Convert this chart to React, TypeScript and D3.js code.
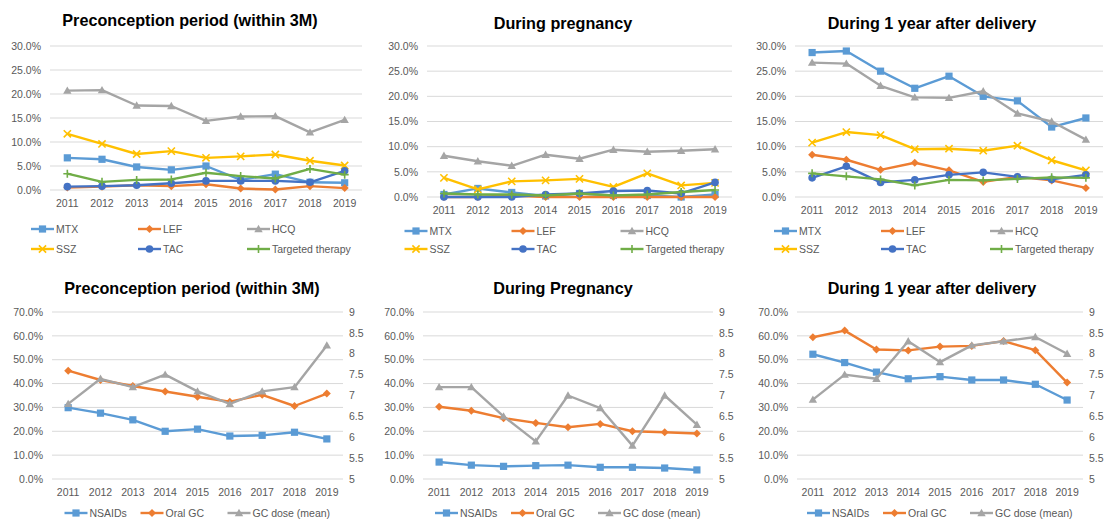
import React from 'react';
import * as d3 from 'd3';

// categories and ticks
const years = ['2011', '2012', '2013', '2014', '2015', '2016', '2017', '2018', '2019'];
const topTicks = [0, 5, 10, 15, 20, 25, 30];
const bottomTicks = [0, 10, 20, 30, 40, 50, 60, 70];
const doseTicks = [5, 5.5, 6, 6.5, 7, 7.5, 8, 8.5, 9];

// Preconception period (within 3M), % of patients
const preMTX = [6.7, 6.4, 4.8, 4.2, 5.0, 2.1, 3.3, 1.6, 1.5];
const preLEF = [0.5, 0.7, 1.0, 0.8, 1.2, 0.3, 0.1, 0.8, 0.4];
const preHCQ = [20.7, 20.8, 17.6, 17.5, 14.4, 15.3, 15.4, 12.0, 14.6];
const preSSZ = [11.7, 9.6, 7.5, 8.1, 6.7, 7.0, 7.4, 6.1, 5.1];
const preTAC = [0.7, 0.8, 1.0, 1.4, 1.9, 1.9, 1.9, 1.6, 4.0];
const preTarget = [3.4, 1.7, 2.1, 2.2, 3.6, 2.9, 2.4, 4.4, 3.2];

// During pregnancy
const pregMTX = [0.5, 1.7, 0.9, 0.2, 0.7, 0.3, 0.3, 0.0, 0.5];
const pregLEF = [0.0, 0.0, 0.3, 0.0, 0.0, 0.0, 0.0, 0.0, 0.0];
const pregHCQ = [8.2, 7.1, 6.2, 8.4, 7.6, 9.4, 9.0, 9.2, 9.5];
const pregSSZ = [3.8, 1.5, 3.1, 3.3, 3.6, 2.0, 4.7, 2.3, 2.8];
const pregTAC = [0.0, 0.0, 0.0, 0.5, 0.7, 1.2, 1.3, 0.7, 2.9];
const pregTarget = [0.7, 0.5, 0.5, 0.3, 0.7, 0.3, 0.5, 1.0, 1.4];

// During 1 year after delivery
const postMTX = [28.7, 29.0, 25.0, 21.6, 24.0, 20.0, 19.1, 13.9, 15.7];
const postLEF = [8.4, 7.4, 5.4, 6.8, 5.3, 3.0, 4.0, 3.3, 1.8];
const postHCQ = [26.7, 26.5, 22.1, 19.8, 19.7, 21.0, 16.6, 15.0, 11.4];
const postSSZ = [10.8, 12.9, 12.3, 9.5, 9.6, 9.2, 10.2, 7.3, 5.3];
const postTAC = [3.8, 6.1, 2.9, 3.4, 4.4, 4.9, 4.0, 3.5, 4.4];
const postTarget = [4.7, 4.1, 3.5, 2.3, 3.4, 3.3, 3.6, 3.9, 3.8];

// bottom row: NSAIDs / Oral GC (%), GC dose (mean, right axis)
const preNSAIDs = [29.9, 27.6, 24.8, 20.0, 20.9, 18.0, 18.3, 19.6, 16.8];
const preOralGC = [45.4, 41.5, 39.0, 36.7, 34.5, 32.4, 35.3, 30.6, 35.8];
const preDose = [6.8, 7.4, 7.2, 7.5, 7.1, 6.8, 7.1, 7.2, 8.2];

const pregNSAIDs = [7.1, 5.8, 5.3, 5.6, 5.8, 4.9, 4.9, 4.6, 3.8];
const pregOralGC = [30.3, 28.6, 25.5, 23.5, 21.7, 23.1, 20.0, 19.6, 19.1];
const pregDose = [7.2, 7.2, 6.5, 5.9, 7.0, 6.7, 5.8, 7.0, 6.3];

const postNSAIDs = [52.3, 48.8, 44.8, 42.0, 42.9, 41.5, 41.5, 39.7, 33.1];
const postOralGC = [59.4, 62.2, 54.3, 53.9, 55.5, 55.8, 57.8, 54.0, 40.4];
const postDose = [6.9, 7.5, 7.4, 8.3, 7.8, 8.2, 8.3, 8.4, 8.0];

const BLUE = '#5B9BD5';
const ORANGE = '#ED7D31';
const GRAY = '#A5A5A5';
const GOLD = '#FFC000';
const DARKBLUE = '#4472C4';
const GREEN = '#70AD47';
const TEXT = '#595959';
const FONT = '"Liberation Sans", Arial, sans-serif';

type Shape = 'square' | 'diamond' | 'triangle' | 'x' | 'circle' | 'plus';
type Series = { name: string; values: number[]; color: string; shape: Shape; right?: boolean };

const Marker = ({ shape, x, y, color }: { shape: Shape; x: number; y: number; color: string }) => {
  const t = `translate(${x},${y})`;
  if (shape === 'square') return <rect x={x - 3.6} y={y - 3.6} width={7.2} height={7.2} fill={color} />;
  if (shape === 'circle') return <circle cx={x} cy={y} r={3.8} fill={color} />;
  if (shape === 'diamond') return <path transform={t} d="M0,-4L4,0L0,4L-4,0Z" fill={color} />;
  if (shape === 'triangle') return <path transform={t} d="M0,-4.2L4.2,3.2L-4.2,3.2Z" fill={color} />;
  if (shape === 'x')
    return <path transform={t} d="M-3.6,-3.6L3.6,3.6M-3.6,3.6L3.6,-3.6" stroke={color} strokeWidth={1.6} />;
  return <path transform={t} d="M-4,0L4,0M0,-4L0,4" stroke={color} strokeWidth={1.6} />;
};

type PanelProps = {
  title: string;
  titleX: number;
  titleY: number;
  left: number;
  right: number;
  top: number;
  bottom: number;
  ticks: number[];
  series: Series[];
  dose?: boolean;
  legendX: number[];
  legendY: number[];
  legendCols: number;
};

const Panel = (p: PanelProps) => {
  const x = d3.scalePoint<string>().domain(years).range([p.left, p.right]).padding(0.5);
  const y = d3.scaleLinear().domain([0, d3.max(p.ticks) as number]).range([p.bottom, p.top]);
  const y2 = d3.scaleLinear().domain([5, 9]).range([p.bottom, p.top]);
  const line = (s: Series) =>
    d3
      .line<number>()
      .x((_, i) => x(years[i]) as number)
      .y((v) => (s.right ? y2(v) : y(v)))(s.values) as string;
  const cx = (p.left + p.right) / 2;

  return (
    <g fontFamily={FONT}>
      <text x={p.titleX} y={p.titleY} textAnchor="middle" fontSize={16.2} fontWeight="bold" fill="#000">
        {p.title}
      </text>
      {p.ticks.map((t) => (
        <g key={t}>
          <line x1={p.left} x2={p.right} y1={y(t)} y2={y(t)} stroke="#D9D9D9" strokeWidth={1} />
          <text x={p.left - 9} y={y(t)} dy="0.35em" textAnchor="end" fontSize={10.5} fill={TEXT}>
            {t.toFixed(1) + '%'}
          </text>
        </g>
      ))}
      {p.dose &&
        doseTicks.map((t) => (
          <text key={t} x={p.right + 6} y={y2(t)} dy="0.35em" textAnchor="start" fontSize={10.5} fill={TEXT}>
            {String(t)}
          </text>
        ))}
      {years.map((yr) => (
        <text key={yr} x={x(yr)} y={p.bottom + 17} textAnchor="middle" fontSize={10.5} fill={TEXT}>
          {yr}
        </text>
      ))}
      {p.series.map((s) => (
        <g key={s.name}>
          <path d={line(s)} fill="none" stroke={s.color} strokeWidth={2.4} strokeLinejoin="round" />
          {s.values.map((v, i) => (
            <Marker key={i} shape={s.shape} x={x(years[i]) as number} y={s.right ? y2(v) : y(v)} color={s.color} />
          ))}
        </g>
      ))}
      {p.series.map((s, i) => {
        const lx = cx + p.legendX[i % p.legendCols];
        const ly = p.legendY[Math.floor(i / p.legendCols)];
        return (
          <g key={'lg' + s.name}>
            <line x1={lx} x2={lx + 23} y1={ly} y2={ly} stroke={s.color} strokeWidth={2.4} />
            <Marker shape={s.shape} x={lx + 11.5} y={ly} color={s.color} />
            <text x={lx + 25} y={ly} dy="0.35em" fontSize={10.5} fill={TEXT}>
              {s.name}
            </text>
          </g>
        );
      })}
    </g>
  );
};

const topSeries = (m: number[], l: number[], h: number[], s: number[], t: number[], g: number[]): Series[] => [
  { name: 'MTX', values: m, color: BLUE, shape: 'square' },
  { name: 'LEF', values: l, color: ORANGE, shape: 'diamond' },
  { name: 'HCQ', values: h, color: GRAY, shape: 'triangle' },
  { name: 'SSZ', values: s, color: GOLD, shape: 'x' },
  { name: 'TAC', values: t, color: DARKBLUE, shape: 'circle' },
  { name: 'Targeted therapy', values: g, color: GREEN, shape: 'plus' },
];

const bottomSeries = (n: number[], o: number[], d: number[]): Series[] => [
  { name: 'NSAIDs', values: n, color: BLUE, shape: 'square' },
  { name: 'Oral GC', values: o, color: ORANGE, shape: 'diamond' },
  { name: 'GC dose (mean)', values: d, color: GRAY, shape: 'triangle', right: true },
];

const topLegendX = [-175, -68, 41];
const bottomLegendX = [-133, -57, 30];

export default function App() {
  return (
    <svg width={1110} height={520} style={{ position: 'absolute', left: 0, top: 0, background: '#fff' }}>
      <Panel title="Preconception period (within 3M)" titleX={190} titleY={26} left={50} right={362} top={46} bottom={190}
        ticks={topTicks} series={topSeries(preMTX, preLEF, preHCQ, preSSZ, preTAC, preTarget)}
        legendX={topLegendX} legendY={[229, 249]} legendCols={3} />
      <Panel title="During pregnancy" titleX={563} titleY={29} left={427} right={732} top={46} bottom={197}
        ticks={topTicks} series={topSeries(pregMTX, pregLEF, pregHCQ, pregSSZ, pregTAC, pregTarget)}
        legendX={topLegendX} legendY={[231, 249]} legendCols={3} />
      <Panel title="During 1 year after delivery" titleX={932} titleY={29} left={795} right={1103} top={46} bottom={197}
        ticks={topTicks} series={topSeries(postMTX, postLEF, postHCQ, postSSZ, postTAC, postTarget)}
        legendX={topLegendX} legendY={[231, 249]} legendCols={3} />
      <Panel title="Preconception period (within 3M)" titleX={192} titleY={294} left={52} right={343} top={312} bottom={479}
        ticks={bottomTicks} series={bottomSeries(preNSAIDs, preOralGC, preDose)} dose
        legendX={bottomLegendX} legendY={[513]} legendCols={3} />
      <Panel title="During Pregnancy" titleX={563} titleY={294} left={423} right={713} top={312} bottom={479}
        ticks={bottomTicks} series={bottomSeries(pregNSAIDs, pregOralGC, pregDose)} dose
        legendX={bottomLegendX} legendY={[513]} legendCols={3} />
      <Panel title="During 1 year after delivery" titleX={932} titleY={294} left={797} right={1083} top={312} bottom={479}
        ticks={bottomTicks} series={bottomSeries(postNSAIDs, postOralGC, postDose)} dose
        legendX={bottomLegendX} legendY={[513]} legendCols={3} />
    </svg>
  );
}
